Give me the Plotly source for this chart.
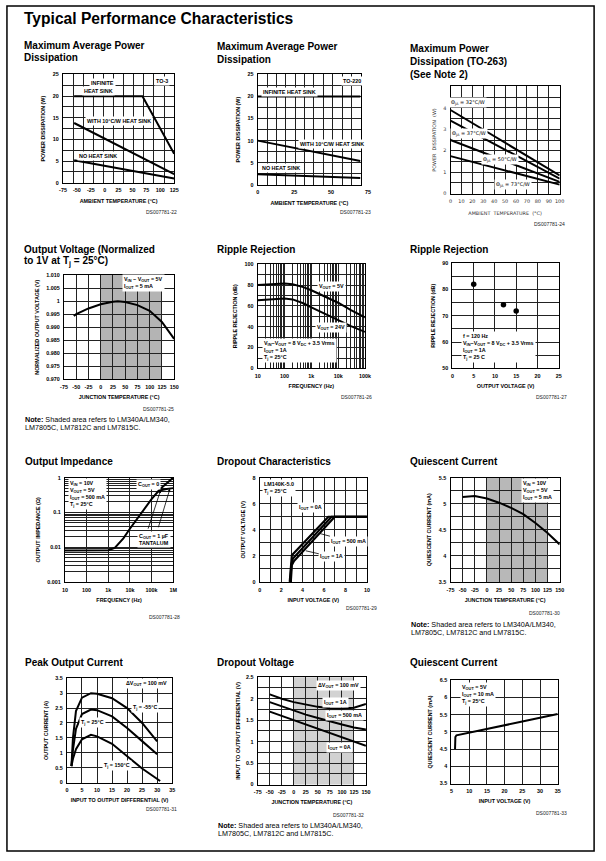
import math
import re
import plotly.graph_objects as go

W, H = 606, 861

# ---------------- data ----------------
# 1. Maximum average power dissipation, TO-3
to3_temp_inf = [-55, 68, 125]
to3_pd_inf = [20, 20, 6.7]
to3_temp = [-55, 125]
to3_pd_hs10 = [13.8, 2.0]
to3_pd_nohs = [5.2, 1.0]
to3_xticks = [-75, -50, -25, 0, 25, 50, 75, 100, 125]
pd_yticks = [0, 5, 10, 15, 20, 25]

# 2. Maximum average power dissipation, TO-220
to220_temp = [0, 70]
to220_pd_inf = [20, 20]
to220_pd_hs10 = [10, 5.4]
to220_pd_nohs = [2.4, 1.5]
to220_xticks = [0, 25, 50]
to220_xtick_last = 75

# 3. Maximum power dissipation, TO-263
to263_temp = [0, 100]
to263_pd_32 = [3.9, 0.85]
to263_pd_37 = [3.4, 0.70]
to263_pd_50 = [2.5, 0.55]
to263_pd_73 = [1.75, 0.42]
to263_xticks = [0, 10, 20, 30, 40, 50, 60, 70, 80, 90, 100]
to263_yticks = [0, 1, 2, 3, 4]

# 4. Output voltage (normalized)
ov_temp = [-55, -50, -25, 0, 25, 35, 50, 75, 100, 125, 150]
ov_norm = [0.9943, 0.9950, 0.9972, 0.9988, 0.9998, 1.0000, 0.9997, 0.9985, 0.9963, 0.9920, 0.9855]
ov_yticks = [0.970, 0.975, 0.980, 0.985, 0.990, 0.995, 1.000, 1.005, 1.010]
ov_ytext = ["0.970", "0.975", "0.980", "0.985", "0.990", "0.995", "1", "1.005", "1.010"]
tj_xticks = [-75, -50, -25, 0, 25, 50, 75, 100, 125, 150]
shade_range = [0, 125]

# 5. Ripple rejection vs frequency
rr_freq = [10, 30, 100, 200, 500, 1000, 3000, 10000, 30000, 100000]
rr_5v = [80, 81, 81.5, 80.8, 78, 75, 69.5, 63, 56, 49]
rr_24v = [65.5, 66.5, 67, 66.2, 62.5, 58.5, 52.5, 46, 40.5, 35]
rr_xticks = [10, 100, 1000, 10000, 100000]
rr_xtext = ["10", "100", "1k", "10k", "100k"]
rr_yticks = [0, 20, 40, 60, 80, 100]

# 6. Ripple rejection vs output voltage
rrv_vout = [5, 12, 15]
rrv_db = [82, 74.2, 71.8]
rrv_xticks = [0, 5, 10, 15, 20, 25]
rrv_yticks = [50, 60, 70, 80, 90]

# 7. Output impedance
zo_freq = [10, 100, 1000, 2000, 5000, 10000, 30000, 100000, 200000, 300000, 1000000]
zo_c0 = [0.008, 0.008, 0.0082, 0.0095, 0.018, 0.034, 0.09, 0.24, 0.4, 0.52, 1.0]
zo_tant_freq = [200000, 300000, 500000, 1000000]
zo_tant = [0.4, 0.44, 0.47, 0.5]
zo_xticks = [10, 100, 1000, 10000, 100000, 1000000]
zo_xtext = ["10", "100", "1k", "10k", "100k", "1M"]
zo_yticks = [0.001, 0.01, 0.1, 1]
zo_ytext = ["0.001", "0.01", "0.1", "1"]

# 8. Dropout characteristics
dc_vin_0a = [2.8, 2.9, 3.0, 6.4, 10]
dc_vout_0a = [0, 1.3, 2.05, 5.0, 5.0]
dc_vin_500 = [2.85, 2.95, 3.1, 6.7, 10]
dc_vout_500 = [0, 1.3, 1.8, 5.0, 5.0]
dc_vin_1a = [2.9, 3.0, 3.2, 7.0, 10]
dc_vout_1a = [0, 1.3, 1.6, 5.0, 5.0]
dc_xticks = [0, 2, 4, 6, 8, 10]
dc_yticks = [0, 2, 4, 6, 8]

# 9. Quiescent current vs temperature
iq_temp = [-50, -25, 0, 25, 50, 75, 100, 125, 150]
iq_ma = [5.13, 5.15, 5.10, 5.02, 4.92, 4.80, 4.63, 4.44, 4.22]
iq_yticks = [3.5, 4, 4.5, 5, 5.5]

# 10. Peak output current
poc_vdiff = [1.5, 2, 3, 5, 8, 10, 15, 20, 25, 30]
poc_m55 = [0.55, 1.5, 2.4, 2.85, 3.0, 2.98, 2.83, 2.5, 2.0, 1.38]
poc_25 = [0.55, 1.1, 1.8, 2.3, 2.45, 2.43, 2.22, 1.83, 1.39, 0.95]
poc_vdiff_150 = [1.5, 2, 3, 5, 8, 10, 15, 20, 25, 31]
poc_150 = [0.55, 0.8, 1.12, 1.45, 1.6, 1.55, 1.3, 0.89, 0.47, 0.05]
poc_xticks = [0, 5, 10, 15, 20, 25, 30, 35]
poc_yticks = [0, 0.5, 1, 1.5, 2, 2.5, 3, 3.5]

# 11. Dropout voltage
dv_temp = [-50, -25, 0, 25, 50, 75, 100, 125, 150]
dv_1a = [2.1, 2.0, 1.92, 1.86, 1.81, 1.78, 1.77, 1.79, 1.88]
dv_500 = [1.92, 1.82, 1.72, 1.63, 1.55, 1.47, 1.40, 1.33, 1.28]
dv_0a = [1.70, 1.60, 1.50, 1.40, 1.30, 1.20, 1.10, 1.00, 0.90]
dv_yticks = [0, 0.5, 1, 1.5, 2, 2.5]

# 12. Quiescent current vs input voltage
iqv_vin = [6.0, 6.1, 6.4, 10, 15, 20, 25, 30, 35]
iqv_ma = [4.5, 4.85, 4.9, 4.98, 5.1, 5.2, 5.3, 5.41, 5.52]
iqv_xticks = [5, 10, 15, 20, 25, 30, 35]
iqv_yticks = [3.5, 4, 4.5, 5, 5.5, 6, 6.5]

# ---------------- styling helpers ----------------
SANS = "Liberation Sans, Arial, Helvetica, sans-serif"
TICKFONT = dict(family=SANS, size=5.4, color="black", weight="bold")
TITLEFONT = dict(family=SANS, size=5.4, color="black", weight="bold")
THINFONT = dict(family="DejaVu Sans, sans-serif", size=4.9, color="#333")
GRID = "#222222"
LW = 2.0

fig = go.Figure()


def px(x):
    return x / W


def py(y):
    return 1 - y / H


def sfx(k):
    return "" if k == 1 else str(k)


def frange(a, b, step):
    out = []
    v = a
    while v <= b + 1e-9:
        out.append(round(v, 6))
        v += step
    return out


def log_minor(d0, d1):
    return [m * 10 ** d for d in range(d0, d1) for m in range(2, 10)]


def close(a, b):
    return abs(a - b) <= 1e-9 * max(1.0, abs(a), abs(b))


def subfix(text, size):
    # explicit-size subscripts
    return re.sub(r"<sub>(.*?)</sub>",
                  lambda m: '<span style="font-size:%.2fpx;baseline-shift:-%.2fpx">%s</span>'
                  % (size * 0.72, size * 0.22, m.group(1)), text)


def axis(k, which, lo, hi, rng, tickvals, ticktext, grid, title, typ="linear",
         font=TICKFONT, tfont=TITLEFONT, standoff=3, majgrid=True):
    s = sfx(k)
    other = "y" if which == "x" else "x"
    minor_vals = [g for g in grid if not (majgrid and any(close(g, t) for t in tickvals))]
    d = dict(
        domain=[lo, hi], anchor=f"{other}{s}", range=rng, type=typ,
        tickmode="array", tickvals=tickvals, ticktext=ticktext,
        showgrid=majgrid, gridcolor=GRID, gridwidth=0.8,
        zeroline=False, showline=True, mirror=True, linecolor="black", linewidth=1.3,
        ticks="", fixedrange=True, tickfont=font, ticklabelstandoff=2,
        minor=dict(tickmode="array", tickvals=minor_vals, showgrid=True,
                   gridcolor=GRID, gridwidth=0.8, ticks=""),
        title=dict(text=title, font=tfont, standoff=standoff),
    )
    fig.update_layout(**{f"{which}axis{s}": d})


def setup(k, box, xr, yr, xt, xtt, yt, ytt, xg, yg, xtitle, ytitle,
          xtype="linear", ytype="linear", font=TICKFONT, tfont=TITLEFONT,
          xmaj=True, ymaj=True, xstand=6, ystand=6):
    x0, x1, y0, y1 = box
    axis(k, "x", px(x0), px(x1), xr, xt, xtt, xg, xtitle, xtype, font, tfont, xstand, xmaj)
    axis(k, "y", py(y1), py(y0), yr, yt, ytt, yg, ytitle, ytype, font, tfont, ystand, ymaj)


def line(k, x, y, width=LW, name=""):
    s = sfx(k)
    fig.add_trace(go.Scatter(x=x, y=y, mode="lines", name=name,
                             line=dict(color="black", width=width),
                             xaxis=f"x{s}", yaxis=f"y{s}", showlegend=False,
                             hoverinfo="skip", cliponaxis=True))


annotations = []
shapes = []


def lab(k, x, y, text, xanchor="center", yanchor="middle", size=5.4, align="left",
        bg="white", font=None, **kw):
    s = sfx(k)
    f = font or dict(family=SANS, size=size, color="black", weight="bold")
    annotations.append(dict(x=x, y=y, xref=f"x{s}", yref=f"y{s}", text=subfix(text, f["size"]),
                            showarrow=kw.pop("showarrow", False), xanchor=xanchor,
                            yanchor=yanchor, align=align, bgcolor=bg, borderpad=1,
                            font=f, **kw))


def ptext(x, y, text, size=5.5, xanchor="left", yanchor="middle", bold=False,
          family=SANS, color="black"):
    annotations.append(dict(x=px(x), y=py(y), xref="paper", yref="paper",
                            text=subfix(text, size), showarrow=False, xanchor=xanchor,
                            yanchor=yanchor, borderpad=0,
                            font=dict(family=family, size=size, color=color,
                                      weight="bold" if bold else "normal")))


def shade(k, x0, x1, color):
    s = sfx(k)
    shapes.append(dict(type="rect", xref=f"x{s}", yref=f"y{s} domain", x0=x0, x1=x1,
                       y0=0, y1=1, fillcolor=color, line=dict(width=0), layer="below"))


def ticks(v):
    return [("%g" % t) for t in v]


L = math.log10

# ---------------- chart 1: TO-3 ----------------
setup(1, (60, 173, 72, 181), [-75, 125], [0, 25],
      to3_xticks, ticks(to3_xticks), pd_yticks, ticks(pd_yticks),
      [-75 + 200 / 11 * i for i in range(1, 11)], frange(2.5, 22.5, 2.5),
      "AMBIENT TEMPERATURE (°C)", "POWER DISSIPATION (W)", xmaj=False)
line(1, to3_temp_inf, to3_pd_inf, name="Infinite heat sink")
line(1, to3_temp, to3_pd_hs10, name="With 10°C/W heat sink")
line(1, to3_temp, to3_pd_nohs, name="No heat sink")
lab(1, -4, 23.0, "INFINITE")
lab(1, -12, 21.1, "HEAT SINK")
lab(1, 103, 23.6, "TO-3")
lab(1, 25, 14.3, "WITH 10°C/W HEAT SINK")
lab(1, -12, 6.1, "NO HEAT SINK")

# ---------------- chart 2: TO-220 ----------------
TO220_XMAX = 70.5
setup(2, (258, 363, 72, 183), [0, TO220_XMAX], [0, 25],
      to220_xticks, ticks(to220_xticks), pd_yticks, ticks(pd_yticks),
      [6.4 * i for i in range(1, 11)], frange(2.5, 22.5, 2.5),
      "AMBIENT TEMPERATURE (°C)", "POWER DISSIPATION (W)", xmaj=False)
line(2, to220_temp, to220_pd_inf)
line(2, to220_temp, to220_pd_hs10)
line(2, to220_temp, to220_pd_nohs)
annotations.append(dict(x=to220_xtick_last / TO220_XMAX, y=0, xref="x2 domain", yref="y2 domain",
                        text=str(to220_xtick_last), showarrow=False, yanchor="top",
                        xanchor="center", yshift=-2, font=TICKFONT))
lab(2, 64.3, 23.6, "TO-220")
lab(2, 21.4, 21.0, "INFINITE HEAT SINK")
lab(2, 50.5, 9.2, "WITH 10°C/W HEAT SINK")
lab(2, 16, 3.8, "NO HEAT SINK")

# ---------------- chart 3: TO-263 ----------------
setup(3, (454, 565, 84, 192), [0, 100], [0, 5],
      to263_xticks, ticks(to263_xticks), to263_yticks, ticks(to263_yticks),
      frange(10, 90, 10), frange(0.5, 4.5, 0.5),
      "AMBIENT  TEMPERATURE  (°C)", "POWER  DISSIPATION  (W)",
      font=THINFONT, tfont=THINFONT, xstand=8)
line(3, to263_temp, to263_pd_32)
line(3, to263_temp, to263_pd_37)
line(3, to263_temp, to263_pd_50)
line(3, to263_temp, to263_pd_73)
thf = dict(family="DejaVu Sans, sans-serif", size=5, color="black")
lab(3, 16, 4.27, "Θ<sub>JA</sub> = 32°C/W", font=thf)
lab(3, 17, 2.8, "Θ<sub>JA</sub> = 37°C/W", font=thf)
lab(3, 45, 1.57, "Θ<sub>JA</sub> = 50°C/W", font=thf)
lab(3, 57, 0.42, "Θ<sub>JA</sub> = 73°C/W", font=thf)

# ---------------- chart 4: output voltage ----------------
setup(4, (61, 173, 274, 379), [-75, 150], [0.970, 1.010],
      tj_xticks, ticks(tj_xticks), ov_yticks, ov_ytext,
      tj_xticks, ov_yticks, "JUNCTION TEMPERATURE (°C)", "NORMALIZED OUTPUT VOLTAGE (V)")
shade(4, shade_range[0], shade_range[1], "#b4b4b4")
line(4, ov_temp, ov_norm)
lab(4, 43, 1.0070, "V<sub>IN</sub> − V<sub>OUT</sub> = 5V<br>I<sub>OUT</sub> = 5 mA", xanchor="left")

# ---------------- chart 5: ripple rejection vs frequency ----------------
setup(5, (258, 367, 263, 368), [1, 5], [0, 100],
      rr_xticks, rr_xtext, rr_yticks, ticks(rr_yticks),
      log_minor(1, 5) + rr_xticks, frange(10, 90, 10),
      "FREQUENCY (Hz)", "RIPPLE REJECTION (dB)", xtype="log")
line(5, rr_freq, rr_5v)
line(5, rr_freq, rr_24v)
lab(5, L(5600), 79, "V<sub>OUT</sub> = 5V")
lab(5, L(5600), 39, "V<sub>OUT</sub> = 24V")
lab(5, L(15), 17.5, "V<sub>IN</sub>−V<sub>OUT</sub> = 8 V<sub>DC</sub> + 3.5 Vrms<br>I<sub>OUT</sub> = 1A<br>T<sub>j</sub> = 25°C",
    xanchor="left")

# ---------------- chart 6: ripple rejection vs output voltage ----------------
setup(6, (456, 564, 262, 368), [0, 25], [50, 90],
      rrv_xticks, ticks(rrv_xticks), rrv_yticks, ticks(rrv_yticks),
      rrv_xticks, frange(50, 90, 5), "OUTPUT VOLTAGE (V)", "RIPPLE REJECTION (dB)")
fig.add_trace(go.Scatter(x=rrv_vout, y=rrv_db, mode="markers", xaxis="x6", yaxis="y6",
                         marker=dict(color="black", size=5.5), showlegend=False, hoverinfo="skip"))
lab(6, 2.1, 58.3, "f = 120 Hz<br>V<sub>IN</sub>−V<sub>OUT</sub> = 8 V<sub>DC</sub> + 3.5 Vrms<br>I<sub>OUT</sub> = 1A<br>T<sub>j</sub> = 25 C",
    xanchor="left")

# ---------------- chart 7: output impedance ----------------
setup(7, (62, 172, 478, 583), [1, 6], [-3, 0],
      zo_xticks, zo_xtext, zo_yticks, zo_ytext,
      zo_xticks, log_minor(-3, 0) + zo_yticks,
      "FREQUENCY (Hz)", "OUTPUT IMPEDANCE (Ω)", xtype="log", ytype="log")
line(7, zo_freq, zo_c0)
line(7, zo_tant_freq, zo_tant)
lab(7, L(13.7), L(0.34), "V<sub>IN</sub> = 10V<br>V<sub>OUT</sub> = 5V<br>I<sub>OUT</sub> = 500 mA<br>T<sub>j</sub> = 25°C",
    xanchor="left")
lab(7, L(72000), L(0.63), "C<sub>OUT</sub> = 0")
lab(7, L(124000), L(0.017), "C<sub>OUT</sub> = 1 µF<br>TANTALUM", align="center")
annotations.append(dict(x=5.42, y=-0.36, xref="x7", yref="y7", ax=-13, ay=40, axref="pixel",
                        ayref="pixel", text="", showarrow=True, arrowhead=2, arrowsize=0.7,
                        arrowwidth=0.8, arrowcolor="black"))
annotations.append(dict(x=5.85, y=-0.32, xref="x7", yref="y7", ax=-12, ay=40, axref="pixel",
                        ayref="pixel", text="", showarrow=True, arrowhead=2, arrowsize=0.7,
                        arrowwidth=0.8, arrowcolor="black"))

# ---------------- chart 8: dropout characteristics ----------------
setup(8, (260, 369, 478, 583), [0, 10], [0, 8],
      dc_xticks, ticks(dc_xticks), dc_yticks, ticks(dc_yticks),
      frange(0, 10, 1), frange(0, 8, 1), "INPUT VOLTAGE (V)", "OUTPUT VOLTAGE (V)")
line(8, dc_vin_0a, dc_vout_0a, width=2.2)
line(8, dc_vin_500, dc_vout_500, width=2.2)
line(8, dc_vin_1a, dc_vout_1a, width=2.2)
lab(8, 0.25, 7.2, "LM140K-5.0<br>T<sub>j</sub> = 25°C", xanchor="left")
lab(8, 4.77, 5.72, "I<sub>OUT</sub> = 0A")
lab(8, 5.5, 3.74, "I<sub>OUT</sub> = 500 mA", showarrow=True, ax=30, ay=8, arrowhead=0,
    arrowwidth=0.8, arrowcolor="black")
lab(8, 4.3, 2.39, "I<sub>OUT</sub> = 1A", showarrow=True, ax=26, ay=6, arrowhead=0,
    arrowwidth=0.8, arrowcolor="black")

# ---------------- chart 9: quiescent current vs temperature ----------------
setup(9, (454, 565, 478, 583), [-75, 150], [3.5, 5.5],
      tj_xticks, ticks(tj_xticks), iq_yticks, ticks(iq_yticks),
      tj_xticks, frange(3.5, 5.5, 0.25), "JUNCTION TEMPERATURE (°C)", "QUIESCENT CURRENT (mA)")
shade(9, shade_range[0], shade_range[1], "#b8b8b8")
line(9, iq_temp, iq_ma)
lab(9, 71, 5.25, "V<sub>IN</sub> = 10V<br>V<sub>OUT</sub> = 5V<br>I<sub>OUT</sub> = 5 mA", xanchor="left")

# ---------------- chart 10: peak output current ----------------
setup(10, (64, 171, 680, 785), [0, 35], [0, 3.5],
      poc_xticks, ticks(poc_xticks), poc_yticks, ticks(poc_yticks),
      poc_xticks, poc_yticks, "INPUT TO OUTPUT DIFFERENTIAL (V)", "OUTPUT CURRENT (A)")
line(10, poc_vdiff, poc_m55)
line(10, poc_vdiff, poc_25)
line(10, poc_vdiff_150, poc_150)
lab(10, 26.5, 3.33, "ΔV<sub>OUT</sub> = 100 mV")
lab(10, 25.8, 2.53, "T<sub>j</sub> = -55°C")
lab(10, 8.5, 2.03, "T<sub>j</sub> = 25°C")
lab(10, 16.6, 0.56, "T<sub>j</sub> = 150°C")

# ---------------- chart 11: dropout voltage ----------------
setup(11, (258, 368, 679, 787), [-75, 150], [0, 2.5],
      tj_xticks, ticks(tj_xticks), dv_yticks, ticks(dv_yticks),
      tj_xticks, frange(0, 2.5, 0.25), "JUNCTION TEMPERATURE (°C)", "INPUT TO OUTPUT DIFFERENTIAL (V)",
      ystand=5)
shade(11, shade_range[0], shade_range[1], "#d2d2d2")
line(11, dv_temp, dv_1a)
line(11, dv_temp, dv_500)
line(11, dv_temp, dv_0a)
lab(11, 92, 2.31, "ΔV<sub>OUT</sub> = 100 mV")
lab(11, 86, 1.92, "I<sub>OUT</sub> = 1A")
lab(11, 105.6, 1.61, "I<sub>OUT</sub> = 500 mA")
lab(11, 94.4, 0.86, "I<sub>OUT</sub> = 0A")

# ---------------- chart 12: quiescent current vs input voltage ----------------
setup(12, (455, 563, 682, 786), [5, 35], [3.5, 6.5],
      iqv_xticks, ticks(iqv_xticks), iqv_yticks, ticks(iqv_yticks),
      iqv_xticks, iqv_yticks, "INPUT VOLTAGE (V)", "QUIESCENT CURRENT (mA)")
line(12, iqv_vin, iqv_ma)
lab(12, 7.3, 6.1, "V<sub>OUT</sub> = 5V<br>I<sub>OUT</sub> = 10 mA<br>T<sub>j</sub> = 25°C", xanchor="left")

# ---------------- page texts ----------------
ptext(19, 16, "Typical Performance Characteristics", size=15.6, bold=True)
titles = [
    (19, 43, "Maximum Average Power"), (19, 55, "Dissipation"),
    (216, 44, "Maximum Average Power"), (216, 57, "Dissipation"),
    (412, 46, "Maximum Power"), (412, 59, "Dissipation (TO-263)"), (412, 72, "(See Note 2)"),
    (19, 248, "Output Voltage (Normalized"), (19, 260, "to 1V at T<sub>j</sub> = 25°C)"),
    (216, 248, "Ripple Rejection"), (412, 248, "Ripple Rejection"),
    (20, 462, "Output Impedance"), (216, 462, "Dropout Characteristics"),
    (412, 462, "Quiescent Current"),
    (20, 664, "Peak Output Current"), (216, 664, "Dropout Voltage"),
    (412, 664, "Quiescent Current"),
]
for x, y, t in titles:
    ptext(x, y, t, size=10, bold=True)

captions = [(160, 210, "DS007781-22"), (357, 210, "DS007781-23"), (555, 223, "DS007781-24"),
            (157, 409, "DS007781-25"), (358, 397, "DS007781-26"), (557, 397, "DS007781-27"),
            (163, 618, "DS007781-28"), (363, 609, "DS007781-29"), (550, 614, "DS007781-30"),
            (160, 812, "DS007781-31"), (350, 818, "DS007781-32"), (557, 816, "DS007781-33")]
for x, y, t in captions:
    ptext(x, y, t, size=5, xanchor="center", color="#222")

notes = [(20, 419, 427), (413, 626, 634), (217, 828, 836)]
for x, y1, y2 in notes:
    ptext(x, y1, "<b>Note:</b> Shaded area refers to LM340A/LM340,", size=7.2)
    ptext(x, y2, "LM7805C, LM7812C and LM7815C.", size=7.2)

shapes.append(dict(type="rect", xref="paper", yref="paper", x0=px(3), x1=px(600),
                   y0=py(854), y1=py(3), line=dict(color="black", width=1.5)))

fig.update_layout(width=W, height=H, margin=dict(l=0, r=0, t=0, b=0), autosize=False,
                  paper_bgcolor="white", plot_bgcolor="white", showlegend=False,
                  annotations=annotations, shapes=shapes)

fig.write_html("out.html", config={"displayModeBar": False},
               post_script="document.body.style.margin='0px';document.body.style.overflow='hidden';")
